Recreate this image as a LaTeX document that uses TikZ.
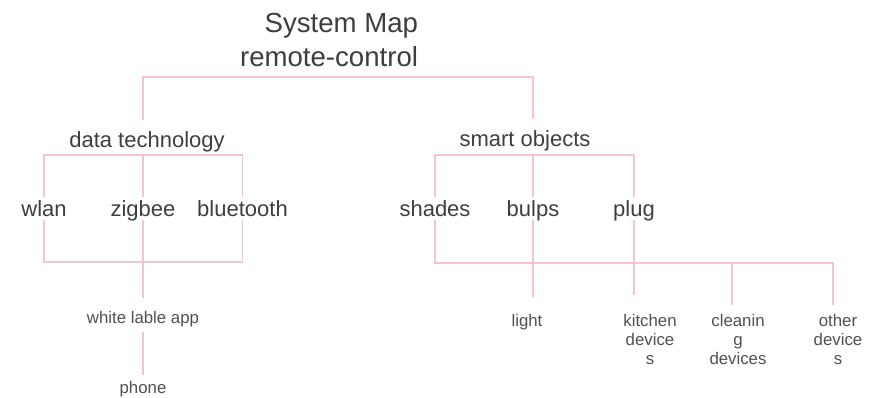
\documentclass[tikz,border=0pt]{standalone}
\usepackage{fontspec}
\setmainfont{Liberation Sans}
\definecolor{linkpink}{RGB}{245,196,208}
\definecolor{ink}{RGB}{62,62,62}
\definecolor{softink}{RGB}{80,80,80}
\begin{document}
\begin{tikzpicture}[x=1pt,y=-1pt,
  link/.style={draw=linkpink, line width=1.6pt},
  lbl/.style={inner sep=0pt, outer sep=0pt, text=ink, anchor=base},
  titletext/.style={lbl, anchor=base east, font=\fontsize{27.6}{34}\selectfont},
  grp/.style={lbl, font=\fontsize{22}{26}\selectfont, text height=27pt, text depth=6pt},
  item/.style={lbl, font=\fontsize{22}{26}\selectfont, text height=19pt, text depth=4pt},
  small/.style={lbl, text=softink, font=\fontsize{16.8}{19.4}\selectfont},
  leaf/.style={inner xsep=0pt, outer sep=0pt, text=softink, anchor=north, align=center,
    font=\fontsize{16.8}{19.4}\selectfont}]
\useasboundingbox (0,0) rectangle (877,397);

% title
\node[titletext] (ttl) at (418,32) {System Map};
\node[titletext] (sub) at (418,66) {remote-control};

% first level
\node[grp] (dt) at (147,147) {data technology};
\node[grp] (so) at (525,146) {smart objects};

% second level
\node[item] (wlan)   at (44,216)  {wlan};
\node[item] (zig)    at (143,216) {zigbee};
\node[item] (bt)     at (242.5,216) {bluetooth};
\node[item] (shades) at (435,216) {shades};
\node[item] (bulps)  at (533,216) {bulps};
\node[item] (plug)   at (634,216) {plug};

% leaves
\node[small, text height=25pt, text depth=9pt] (wla) at (143,323) {white lable app};
\node[small, text height=18pt, text depth=4pt] (phone) at (143,393) {phone};
\node[leaf, inner ysep=17pt] (light) at (527,297) {light};
\node[leaf, inner ysep=19pt] (kit)   at (650,295) {kitchen\\device\\s};
\node[leaf, inner ysep=9pt]  (cln)   at (738,305) {cleanin\\g\\devices};
\node[leaf, inner ysep=9pt]  (oth)   at (838,305) {other\\device\\s};

% bar levels
\coordinate (tbar)  at (0,77);
\coordinate (lbar)  at (0,155);
\coordinate (rbar)  at (0,155);
\coordinate (lfoot) at (0,262);
\coordinate (rfoot) at (0,263);
\coordinate (cdrop) at (732,263);
\coordinate (odrop) at (833,263);

% root bracket
\draw[link] (dt.north -| zig) -- (tbar -| zig) -- (tbar -| bulps) -- (so.north -| bulps);

% data technology branch
\draw[link] (wlan.north) -- (lbar -| wlan) -- (lbar -| bt) -- (bt.north);
\draw[link] (zig.north) -- (lbar -| zig);
\draw[link] (wlan.south) -- (lfoot -| wlan) -- (lfoot -| bt) -- (bt.south);
\draw[link] (zig.south) -- (wla.north);
\draw[link] (wla.south) -- (phone.north);

% smart objects branch
\draw[link] (shades.north) -- (rbar -| shades) -- (rbar -| plug) -- (plug.north);
\draw[link] (bulps.north) -- (rbar -| bulps);
\draw[link] (shades.south) -- (rfoot -| shades) -- (odrop) -- (odrop |- oth.north);
\draw[link] (cdrop) -- (cdrop |- cln.north);
\draw[link] (bulps.south) -- (light.north -| bulps);
\draw[link] (plug.south) -- (kit.north -| plug);
\end{tikzpicture}
\end{document}
